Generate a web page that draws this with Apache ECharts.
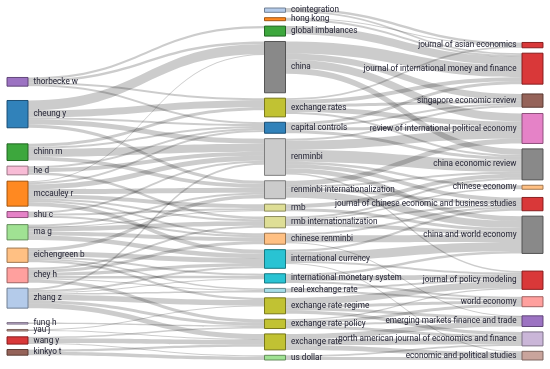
<!DOCTYPE html>
<html>
<head>
<meta charset="utf-8">
<script src="https://cdn.jsdelivr.net/npm/echarts@6/dist/echarts.min.js"></script>
<style>
html,body{margin:0;padding:0;background:#ffffff;}
#chart{width:550px;height:369px;}
</style>
</head>
<body>
<div id="chart"></div>
<script>
// ---- data (left: authors, middle: keywords, right: sources) ----
const authors = ['thorbecke w','cheung y','chinn m','he d','mccauley r','shu c','ma g','eichengreen b','chey h','zhang z','fung h','yau j','wang y','kinkyo t'];
const authorValues = [8.7,27.3,16.7,8.7,25,6,15.3,14.3,15,20,1.5,1.5,7.3,5.7];

const keywords = ['cointegration','hong kong','global imbalances','china','exchange rates','capital controls','renminbi','renminbi internationalization','rmb','rmb internationalization','chinese renminbi','international currency','international monetary system','real exchange rate','exchange rate regime','exchange rate policy','exchange rate','us dollar'];
const keywordValues = [4.3,3,10,51.3,18.7,11,36.7,18,7,11.3,11,18.7,9.3,4,16,9.3,16,4.7];

const sources = ['journal of asian economics','journal of international money and finance','singapore economic review','review of international political economy','china economic review','chinese economy','journal of chinese economic and business studies','china and world economy','journal of policy modeling','world economy','emerging markets finance and trade','north american journal of economics and finance','economic and political studies'];
const sourceValues = [5.3,31,13.3,30,31,4,13.3,37.3,18.3,10,10.7,14,8.7];

const authorKeywordLinks = [
  ['thorbecke w','global imbalances',2.2],['thorbecke w','china',2.5],['thorbecke w','exchange rates',2.2],['thorbecke w','capital controls',1.8],
  ['cheung y','china',10],['cheung y','exchange rates',7],['cheung y','capital controls',2],['cheung y','renminbi',5],['cheung y','renminbi internationalization',3.3],
  ['chinn m','capital controls',2],['chinn m','exchange rates',3],['chinn m','renminbi',8],['chinn m','renminbi internationalization',3.7],
  ['he d','capital controls',2],['he d','renminbi',4],['he d','rmb internationalization',2.7],
  ['mccauley r','china',1],['mccauley r','capital controls',2],['mccauley r','renminbi',5],['mccauley r','renminbi internationalization',5],['mccauley r','rmb',4],['mccauley r','rmb internationalization',2],['mccauley r','chinese renminbi',2],['mccauley r','international currency',4],
  ['shu c','renminbi',2],['shu c','rmb',2],['shu c','chinese renminbi',2],
  ['ma g','renminbi internationalization',2],['ma g','rmb',0.2],['ma g','rmb internationalization',4.6],['ma g','chinese renminbi',4],['ma g','international currency',4.5],
  ['eichengreen b','renminbi internationalization',3.5],['eichengreen b','international currency',5],['eichengreen b','international monetary system',2],['eichengreen b','real exchange rate',1.5],['eichengreen b','exchange rate regime',2.3],
  ['chey h','rmb internationalization',2],['chey h','chinese renminbi',3],['chey h','international currency',3.2],['chey h','international monetary system',2.5],['chey h','real exchange rate',1],['chey h','exchange rate policy',3.3],
  ['zhang z','renminbi',2],['zhang z','international currency',2],['zhang z','international monetary system',1],['zhang z','real exchange rate',1.5],['zhang z','exchange rate regime',5.5],['zhang z','exchange rate policy',3],['zhang z','exchange rate',5],
  ['fung h','exchange rate policy',1.5],
  ['yau j','exchange rate regime',0.5],['yau j','exchange rate',1],
  ['wang y','exchange rate policy',1.5],['wang y','exchange rate',4.6],['wang y','us dollar',1.2],
  ['kinkyo t','exchange rate',2.2],['kinkyo t','us dollar',3.5]
];

const keywordSourceLinks = [
  ['cointegration','journal of asian economics',2.5],['cointegration','journal of international money and finance',1.8],
  ['hong kong','journal of asian economics',1],['hong kong','journal of international money and finance',2],
  ['global imbalances','journal of international money and finance',8.2],
  ['china','journal of international money and finance',12],['china','singapore economic review',6.3],['china','review of international political economy',8],['china','china economic review',6],
  ['exchange rates','journal of asian economics',1.8],['exchange rates','journal of international money and finance',4],['exchange rates','singapore economic review',3],['exchange rates','review of international political economy',5],['exchange rates','china economic review',2],
  ['capital controls','journal of international money and finance',3],['capital controls','singapore economic review',2],['capital controls','review of international political economy',3],['capital controls','china economic review',3],
  ['renminbi','singapore economic review',2],['renminbi','review of international political economy',9],['renminbi','china economic review',12],['renminbi','chinese economy',2.5],['renminbi','journal of chinese economic and business studies',4],['renminbi','china and world economy',4.8],['renminbi','journal of policy modeling',1.5],
  ['renminbi internationalization','review of international political economy',5],['renminbi internationalization','china economic review',2],['renminbi internationalization','journal of chinese economic and business studies',3],['renminbi internationalization','china and world economy',7],
  ['rmb','china economic review',4],['rmb','china and world economy',3],
  ['rmb internationalization','china economic review',2],['rmb internationalization','chinese economy',1.5],['rmb internationalization','journal of chinese economic and business studies',2],['rmb internationalization','china and world economy',4],
  ['chinese renminbi','journal of chinese economic and business studies',2],['chinese renminbi','china and world economy',7],['chinese renminbi','emerging markets finance and trade',0.4],
  ['international currency','journal of chinese economic and business studies',2.3],['international currency','china and world economy',9],['international currency','journal of policy modeling',2],['international currency','economic and political studies',1],
  ['international monetary system','china and world economy',2.5],['international monetary system','journal of policy modeling',4.8],['international monetary system','world economy',2],
  ['real exchange rate','journal of policy modeling',2],['real exchange rate','world economy',2],
  ['exchange rate regime','journal of policy modeling',6.7],['exchange rate regime','world economy',3],['exchange rate regime','emerging markets finance and trade',3],['exchange rate regime','north american journal of economics and finance',3.3],
  ['exchange rate policy','journal of policy modeling',1.3],['exchange rate policy','world economy',3],['exchange rate policy','emerging markets finance and trade',2],['exchange rate policy','north american journal of economics and finance',3],
  ['exchange rate','emerging markets finance and trade',5.3],['exchange rate','north american journal of economics and finance',6],['exchange rate','economic and political studies',4.7],
  ['us dollar','north american journal of economics and finance',1.7],['us dollar','economic and political studies',3]
];

// ---- styles ----
const authorColors = ['#9467bd','#1f77b4','#2ca02c','#f7b6d2','#ff7f0e','#e377c2','#98df8a','#ffbb78','#ff9896','#aec7e8','#c5b0d5','#c49c94','#d62728','#8c564b'];
const keywordColors = ['#aec7e8','#ff7f0e','#2ca02c','#7f7f7f','#bcbd22','#1f77b4','#c7c7c7','#c7c7c7','#dbdb8d','#dbdb8d','#ffbb78','#17becf','#17becf','#9edae5','#bcbd22','#bcbd22','#bcbd22','#98df8a'];
const sourceColors = ['#d62728','#d62728','#8c564b','#e377c2','#7f7f7f','#ffbb78','#d62728','#7f7f7f','#d62728','#ff9896','#9467bd','#c5b0d5','#c49c94'];

function darker(hex, k) {
  const n = parseInt(hex.slice(1), 16);
  const r = Math.round(((n >> 16) & 255) * k), g = Math.round(((n >> 8) & 255) * k), b = Math.round((n & 255) * k);
  return 'rgb(' + r + ',' + g + ',' + b + ')';
}

function makeNodes(names, values, colors, depth, labelPos) {
  return names.map(function (name, i) {
    return {
      name: name,
      value: values[i],
      depth: depth,
      itemStyle: { color: colors[i], borderColor: darker(colors[i], 0.6), borderWidth: 1, opacity: 0.92 },
      label: { position: labelPos }
    };
  });
}

const nodes = [].concat(
  makeNodes(authors, authorValues, authorColors, 0, 'right'),
  makeNodes(keywords, keywordValues, keywordColors, 1, 'right'),
  makeNodes(sources, sourceValues, sourceColors, 2, 'left')
);
const links = authorKeywordLinks.concat(keywordSourceLinks).map(function (l) {
  return { source: l[0], target: l[1], value: l[2] };
});

const chart = echarts.init(document.getElementById('chart'), null, { renderer: 'canvas' });
chart.setOption({
  animation: false,
  backgroundColor: '#ffffff',
  series: [{
    type: 'sankey',
    left: 7, right: 7, top: 8, bottom: 9,
    nodeWidth: 21,
    nodeGap: 5.4,
    layoutIterations: 300,
    nodeAlign: 'justify',
    draggable: false,
    silent: true,
    emphasis: { disabled: true },
    data: nodes,
    links: links,
    lineStyle: { color: '#000000', opacity: 0.2, curveness: 0.5 },
    label: { show: true, fontFamily: 'Roboto', fontSize: 8.2, color: '#222233', distance: 5 }
  }]
});
</script>
</body>
</html>
